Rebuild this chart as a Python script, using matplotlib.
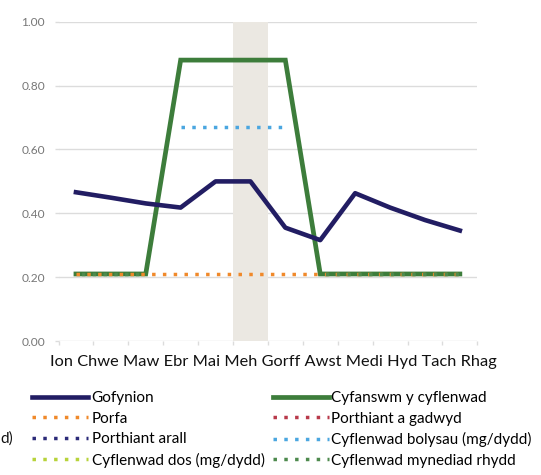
import numpy as np
import matplotlib
matplotlib.use("Agg")
import matplotlib.pyplot as plt
from matplotlib.lines import Line2D

plt.rcParams['font.family'] = ['Lato', 'DejaVu Sans']

months = ["Ion", "Chwe", "Maw", "Ebr", "Mai", "Meh", "Gorff", "Awst", "Medi", "Hyd", "Tach", "Rhag"]
nan = np.nan
gofynion = [0.466, 0.449, 0.431, 0.418, 0.50, 0.50, 0.355, 0.316, 0.463, 0.418, 0.379, 0.346]
cyfanswm = [0.21, 0.21, 0.21, 0.88, 0.88, 0.88, 0.88, 0.21, 0.21, 0.21, 0.21, 0.21]
porfa = [0.21] * 12
porthiant_gadwyd = [nan] * 12
porthiant_arall = [nan] * 12
bolysau = [nan, nan, nan, 0.67, 0.67, 0.67, 0.67, nan, nan, nan, nan, nan]
dos = [nan] * 12
mynediad = [0.21, 0.21, 0.21, nan, nan, nan, nan, 0.21, 0.21, 0.21, 0.21, 0.21]
yticks = [0.0, 0.2, 0.4, 0.6, 0.8, 1.0]
shade_month = "Meh"

W, H = 541, 475
fig = plt.figure(figsize=(W / 100, H / 100), dpi=100)
ax = fig.add_axes([58.5 / W, 1 - 341 / H, (477.3 - 58.5) / W, (341 - 21.8) / H])

x = np.arange(len(months))
si = months.index(shade_month)
ax.axvspan(si - 0.5, si + 0.5, ymin=0, ymax=1, color="#ebe8e2", lw=0, zorder=1)

grid_c = "#dcdcdc"
for yv in yticks:
    ax.axhline(yv, color=grid_c, lw=1.0, zorder=0.5)

navy = "#221d63"
green = "#3d7d3b"
orange = "#f0892a"
red = "#b8394a"
navy_dot = "#2b2a78"
lblue = "#4aa6e0"
ygreen = "#b7d33a"
dgreen = "#4d8a4d"

lw_dot = 2.5
gap = (10.8 * 0.72) / lw_dot
dot = (0, (1.0, gap - 1.0))

ax.plot(x, cyfanswm, color=green, lw=3.4, solid_joinstyle="miter", zorder=3)
ax.plot(x, porfa, color=orange, lw=lw_dot, ls=dot, dash_capstyle="butt", zorder=4)
ax.plot(x, porthiant_gadwyd, color=red, lw=lw_dot, ls=dot, zorder=4)
ax.plot(x, porthiant_arall, color=navy_dot, lw=lw_dot, ls=dot, zorder=4)
ax.plot(x, dos, color=ygreen, lw=lw_dot, ls=dot, zorder=4)
ax.plot(x, mynediad, color=dgreen, lw=lw_dot, ls=(gap / 2, (1.0, gap - 1.0)), dash_capstyle="butt", zorder=4)
ax.plot(x, bolysau, color=lblue, lw=lw_dot, ls=dot, dash_capstyle="butt", zorder=4)
ax.plot(x, gofynion, color=navy, lw=3.3, solid_joinstyle="round", zorder=5)

ax.set_xlim(-0.5, len(months) - 0.5)
ax.set_ylim(0, 1.0)
for s in ax.spines.values():
    s.set_visible(False)
ax.set_yticks(yticks)
ax.set_yticklabels([f"{v:.2f}" for v in yticks])
ax.tick_params(axis="y", length=2.6, width=1.0, color=grid_c, pad=7, labelsize=8.6, labelcolor="#777777")
ax.set_xticks(np.arange(len(months) + 1) - 0.5)
ax.set_xticklabels([])
ax.tick_params(axis="x", length=3, width=1.0, color=grid_c, direction="out")

fig.text(50 / W, 1 - 362 / H, " ".join(months), ha="left", va="center", fontsize=11.8, color="#111111")


def dline(c):
    return Line2D([], [], color=c, lw=lw_dot, ls=dot, dash_capstyle="butt")


left_h = [Line2D([], [], color=navy, lw=3.3), dline(orange), dline(navy_dot), dline(ygreen)]
left_l = ["Gofynion", "Porfa", "Porthiant arall", "Cyflenwad dos (mg/dydd)"]
right_h = [Line2D([], [], color=green, lw=3.4), dline(red), dline(lblue), dline(dgreen)]
right_l = ["Cyfanswm y cyflenwad", "Porthiant a gadwyd", "Cyflenwad bolysau (mg/dydd)",
           "Cyflenwad mynediad rhydd"]

fs = 11
fpx = fs * 100 / 72
common = dict(loc="upper left", frameon=False, fontsize=fs, borderpad=0, borderaxespad=0,
              handlelength=56 / fpx, labelspacing=0.43)
leg1 = fig.legend(left_h, left_l, bbox_to_anchor=(31.7 / W, 1 - 391 / H),
                  handletextpad=4 / fpx, **common)
leg2 = fig.legend(right_h, right_l, bbox_to_anchor=(273 / W, 1 - 391 / H),
                  handletextpad=2 / fpx, **common)

fig.text(0 / W, 1 - 439 / H, "d)", ha="left", va="center", fontsize=fs, color="#111111")

fig.savefig("out.png", dpi=100)
